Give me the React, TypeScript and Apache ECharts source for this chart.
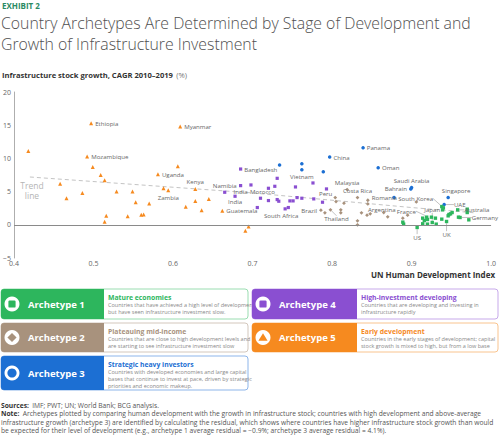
import React, { useEffect, useRef } from "react";
import * as echarts from "echarts";

// [label, HDI, infrastructure stock growth %]
type Pt = [string, number, number];

const matureEconomies: Pt[] = [
  ["", 0.889, 0.4], ["", 0.89, 0.1], ["US", 0.907, -0.4], ["", 0.914, 1.0],
  ["France", 0.919, 1.15], ["", 0.916, 0.65], ["", 0.92, 0.8], ["", 0.925, 1.15],
  ["", 0.93, 1.0], ["Japan", 0.926, 0.35], ["", 0.931, 0.1], ["", 0.92, 0.1],
  ["", 0.914, 0.15], ["", 0.938, 0.85], ["", 0.939, 2.25], ["South Korea", 0.938, 2.75],
  ["", 0.94, 2.55], ["", 0.947, 1.55], ["", 0.946, 1.35], ["", 0.949, 1.65],
  ["", 0.951, 1.85], ["Australia", 0.958, 2.25], ["", 0.97, 2.35], ["", 0.97, 1.85],
  ["", 0.959, 1.15], ["Germany", 0.961, 1.1], ["", 0.972, 0.75], ["UK", 0.944, 0.5],
];

const plateauingMidIncome: Pt[] = [
  ["Malaysia", 0.819, 5.3], ["Costa Rica", 0.832, 4.1], ["Peru", 0.804, 4.1],
  ["", 0.805, 3.5], ["", 0.815, 3.25], ["Romania", 0.845, 3.7], ["", 0.845, 3.15],
  ["Brazil", 0.786, 2.2], ["", 0.791, 1.8], ["Thailand", 0.798, 2.25], ["", 0.811, 2.25],
  ["", 0.811, 1.8], ["", 0.832, 0.6], ["", 0.832, 0.0], ["", 0.837, 1.8],
  ["", 0.844, 1.45], ["", 0.848, 1.65], ["Argentina", 0.865, 1.85], ["", 0.87, 1.2],
  ["", 0.906, 3.45], ["", 0.895, 1.45], ["", 0.889, 1.0],
];

const strategicHeavyInvestors: Pt[] = [
  ["", 0.734, 9.0], ["", 0.762, 9.2], ["Vietnam", 0.762, 8.3], ["", 0.789, 8.0],
  ["China", 0.797, 10.2], ["Panama", 0.839, 11.6], ["Oman", 0.858, 8.6],
  ["", 0.878, 4.1], ["Bahrain", 0.899, 5.4], ["Saudi Arabia", 0.9, 5.6],
  ["Singapore", 0.946, 4.1], ["UAE", 0.941, 3.05],
];

const highInvestmentDeveloping: Pt[] = [
  ["Bangladesh", 0.685, 8.4], ["India", 0.685, 5.9], ["Namibia", 0.665, 4.9],
  ["India", 0.678, 4.3], ["", 0.698, 6.0], ["", 0.731, 7.0], ["", 0.728, 5.8],
  ["", 0.72, 5.5], ["Morocco", 0.71, 4.0], ["", 0.72, 3.65], ["", 0.731, 3.8],
  ["", 0.733, 3.55], ["", 0.747, 3.6], ["", 0.751, 3.6], ["", 0.756, 4.1],
  ["", 0.754, 5.7], ["", 0.762, 4.0], ["", 0.777, 3.9], ["", 0.776, 6.3],
  ["", 0.788, 3.4], ["", 0.793, 5.4], ["", 0.706, 2.6], ["South Africa", 0.741, 2.4],
  ["", 0.745, 2.6],
];

const earlyDevelopment: Pt[] = [
  ["", 0.418, 11.1], ["Ethiopia", 0.497, 15.3], ["Myanmar", 0.609, 14.8],
  ["Mozambique", 0.492, 10.3], ["", 0.499, 8.7], ["", 0.509, 7.5], ["", 0.514, 6.7],
  ["", 0.458, 6.2], ["", 0.466, 4.0], ["", 0.486, 4.8], ["", 0.529, 5.0],
  ["", 0.549, 5.0], ["", 0.553, 3.4], ["", 0.57, 3.2], ["", 0.516, 1.35],
  ["", 0.514, 0.45], ["", 0.543, 1.3], ["", 0.56, 1.5], ["", 0.563, 1.55],
  ["", 0.606, 8.8], ["Uganda", 0.581, 7.6], ["", 0.588, 5.5], ["Zambia", 0.594, 5.2],
  ["Kenya", 0.628, 5.4], ["", 0.628, 3.6], ["", 0.645, 3.9], ["", 0.616, 2.7],
  ["", 0.636, 2.2], ["Guatemala", 0.662, 2.1], ["", 0.691, -0.9], ["", 0.695, -0.25],
];

const trendLine: [number, number][] = [
  [0.42, 7.2], [0.7, 4.8], [0.9, 2.6], [0.98, 1.8],
];

const xRange = [0.4, 1.0];
const yRange = [-5, 20];

const archetypeNames = ["Archetype 1", "Archetype 2", "Archetype 3", "Archetype 4", "Archetype 5"];
const archetypeTitles = [
  "Mature economies",
  "Plateauing mid-income",
  "Strategic heavy investors",
  "High-investment developing",
  "Early development",
];
const archetypeDescriptions = [
  ["Countries that have achieved a high level of development", "but have seen infrastructure investment slow."],
  ["Countries that are close to high development levels and", "are starting to see infrastructure investment slow"],
  ["Countries with developed economies and large capital", "bases that continue to invest at pace, driven by strategic", "priorities and economic makeup."],
  ["Countries that are developing and investing in", "infrastructure rapidly"],
  ["Countries in the early stages of development; capital", "stock growth is mixed to high, but from a low base"],
];

const titleLines = [
  "Country Archetypes Are Determined by Stage of Development and",
  "Growth of Infrastructure Investment",
];
const noteLines = [
  "Archetypes plotted by comparing human development with the growth in infrastructure stock; countries with high development and above-average",
  "infrastructure growth (archetype 3) are identified by calculating the residual, which shows where countries have higher infrastructure stock growth than would",
  "be expected for their level of development (e.g., archetype 1 average residual = \u22120.9%; archetype 3 average residual = 4.1%).",
];

const FONT = "'Open Sans', 'Noto Sans', sans-serif";
const COLORS = ["#2DB65D", "#A8927D", "#1C6FD3", "#8A4FD1", "#F68A1F"];
const BORDERS = ["#9ADDB1", "#D3C7BC", "#8DB5EA", "#C7A9EA", "#F9C48F"];

type Place = { position: string; distance?: number; dx?: number; dy?: number; line?: boolean };
const labelPlacement: Record<string, Place> = {
  Ethiopia: { position: "right" },
  Myanmar: { position: "right" },
  Mozambique: { position: "right" },
  Uganda: { position: "right" },
  Zambia: { position: "bottom" },
  Kenya: { position: "top" },
  Guatemala: { position: "right" },
  Bangladesh: { position: "right" },
  India: { position: "bottom", distance: 1 },
  Namibia: { position: "top" },
  Morocco: { position: "top", dx: 2 },
  "South Africa": { position: "bottom", dx: -4 },
  Vietnam: { position: "bottom" },
  China: { position: "right" },
  Panama: { position: "right" },
  Oman: { position: "right" },
  "Saudi Arabia": { position: "top" },
  Bahrain: { position: "left" },
  Singapore: { position: "top", dx: 8 },
  UAE: { position: "right", dx: 6, line: true },
  Malaysia: { position: "top" },
  "Costa Rica": { position: "top" },
  Peru: { position: "left", distance: 1, dy: -4 },
  Romania: { position: "right", dy: -3 },
  Brazil: { position: "left" },
  Thailand: { position: "bottom", dx: 6, dy: 2, line: true },
  Argentina: { position: "top", distance: 0, dx: -2, dy: 1.5 },
  France: { position: "left", dx: -7, dy: -6, line: true },
  US: { position: "bottom", dy: 3, line: true },
  Japan: { position: "top", dy: -6, line: true },
  "South Korea": { position: "left", dx: -5, dy: -8, line: true },
  UK: { position: "bottom", dy: 6, line: true },
  Australia: { position: "right", dx: 3, line: true },
  Germany: { position: "right", dx: 8, line: true },
};

function scatterSeries(name: string, pts: Pt[], color: string, symbol: string, size: number) {
  return {
    type: "scatter",
    name,
    symbol,
    symbolSize: size,
    z: 3,
    itemStyle: { color, opacity: 1 },
    label: { show: false, formatter: "{b}", fontSize: 6.1, color: "#666", fontFamily: FONT },
    labelLine: { show: false, lineStyle: { color: "#999", width: 0.6 } },
    data: pts.map(([label, x, y]) => {
      const p = label ? labelPlacement[label] : undefined;
      const item: any = { name: label, value: [x, y] };
      if (label) {
        item.label = {
          show: true,
          position: p ? p.position : "right",
          distance: p && p.distance !== undefined ? p.distance : 2,
        };
        if (p && p.line) item.labelLine = { show: true, lineStyle: { color: "#999", width: 0.6 } };
      }
      return item;
    }),
    labelLayout: (params: any) => {
      const it = pts[params.dataIndex];
      const p = it && it[0] ? labelPlacement[it[0]] : undefined;
      if (p && (p.dx || p.dy)) return { dx: p.dx || 0, dy: p.dy || 0 };
      return {};
    },
  };
}

function legendBox(i: number, x: number, y: number, w: number, h: number, colW: number): any[] {
  const color = COLORS[i];
  const cx = x + 11;
  const cy = y + h / 2;
  const els: any[] = [
    { type: "rect", shape: { x, y, width: w, height: h, r: 3 }, style: { fill: "#fff", stroke: BORDERS[i], lineWidth: 1 } },
    { type: "rect", shape: { x, y, width: colW, height: h, r: [3, 0, 0, 3] }, style: { fill: color } },
    { type: "circle", shape: { cx, cy, r: 7.5 }, style: { fill: "#fff" } },
  ];
  if (i === 0 || i === 3) {
    els.push({ type: "rect", shape: { x: cx - 3.6, y: cy - 3.6, width: 7.2, height: 7.2, r: 1.2 }, style: { fill: color } });
  } else if (i === 1) {
    els.push({ type: "polygon", shape: { points: [[cx, cy - 4.6], [cx + 4.6, cy], [cx, cy + 4.6], [cx - 4.6, cy]] }, style: { fill: color } });
  } else if (i === 2) {
    els.push({ type: "circle", shape: { cx, cy, r: 4.6 }, style: { fill: color } });
  } else {
    els.push({ type: "polygon", shape: { points: [[cx, cy - 4.3], [cx + 4.6, cy + 3.2], [cx - 4.6, cy + 3.2]] }, style: { fill: color } });
  }
  els.push({
    type: "text", x: x + 27, y: cy,
    style: { text: archetypeNames[i], fill: "#fff", font: `bold 9.5px ${FONT}`, verticalAlign: "middle" },
  });
  const tx = x + colW + 4;
  els.push({
    type: "text", x: tx, y: y + 8,
    style: { text: archetypeTitles[i], fill: color, font: `bold 6.8px ${FONT}`, verticalAlign: "middle" },
  });
  archetypeDescriptions[i].forEach((line, k) => {
    els.push({
      type: "text", x: tx, y: y + 16 + k * 7,
      style: { text: line, fill: "#888", font: `5.5px ${FONT}`, verticalAlign: "middle" },
    });
  });
  return els;
}

export default function App() {
  const ref = useRef<HTMLDivElement>(null);
  useEffect(() => {
    if (!ref.current) return;
    const chart = echarts.init(ref.current, undefined, { renderer: "svg" });
    const graphics: any[] = [
      { type: "text", x: 2, y: 5, style: { text: "EXHIBIT 2", fill: "#2A8A63", font: `bold 8px ${FONT}`, verticalAlign: "middle" } },
      ...titleLines.map((t, k) => ({
        type: "text", x: 1, y: 23 + k * 20.5,
        style: { text: t, fill: "#505050", font: `300 15.8px ${FONT}`, verticalAlign: "middle" },
      })),
      {
        type: "text", x: 2, y: 75,
        style: {
          text: "{b|Infrastructure stock growth, CAGR 2010\u20132019} {n|(%)}",
          verticalAlign: "middle",
          rich: {
            b: { font: `bold 7.6px ${FONT}`, fill: "#333" },
            n: { font: `7.6px ${FONT}`, fill: "#777" },
          },
        },
      },
      { type: "text", x: 32, y: 185.5, style: { text: "Trend", fill: "#b5b5b5", font: `8.5px ${FONT}`, align: "center", verticalAlign: "middle" } },
      { type: "text", x: 32, y: 195.5, style: { text: "line", fill: "#b5b5b5", font: `8.5px ${FONT}`, align: "center", verticalAlign: "middle" } },
      { type: "text", x: 495, y: 274, style: { text: "UN Human Development Index", fill: "#333", font: `bold 8px ${FONT}`, align: "right", verticalAlign: "middle" } },
      ...legendBox(0, 1, 289, 247, 30, 103),
      ...legendBox(1, 1, 323, 247, 29, 103),
      ...legendBox(2, 1, 356, 247, 34, 103),
      ...legendBox(3, 252, 289, 246, 30, 105),
      ...legendBox(4, 252, 323, 246, 29, 105),
      {
        type: "text", x: 1, y: 405,
        style: {
          text: "{b|Sources:} {n|IMF; PWT; UN; World Bank; BCG analysis.}",
          verticalAlign: "middle",
          rich: { b: { font: `bold 6.7px ${FONT}`, fill: "#333" }, n: { font: `6.7px ${FONT}`, fill: "#555" } },
        },
      },
      ...noteLines.map((t, k) => ({
        type: "text", x: 1, y: 413.8 + k * 8.5,
        style: k === 0
          ? {
              text: `{b|Note:} {n|${t}}`,
              verticalAlign: "middle",
              rich: { b: { font: `bold 6.7px ${FONT}`, fill: "#333" }, n: { font: `6.7px ${FONT}`, fill: "#555" } },
            }
          : { text: t, font: `6.7px ${FONT}`, fill: "#555", verticalAlign: "middle" },
      })),
    ];

    chart.setOption({
      animation: false,
      grid: { left: 12, right: 4, top: 92, bottom: 179, containLabel: false },
      xAxis: {
        type: "value", min: xRange[0], max: xRange[1], interval: 0.1,
        axisLine: { show: false }, axisTick: { show: false }, splitLine: { show: false },
        axisLabel: { fontSize: 7, color: "#666", fontFamily: FONT, margin: 2, formatter: (v: number) => v.toFixed(1) },
      },
      yAxis: {
        type: "value", min: yRange[0], max: yRange[1], interval: 5,
        axisLine: { show: true, lineStyle: { color: "#999", width: 0.8 } },
        axisTick: { show: false }, splitLine: { show: false },
        axisLabel: { fontSize: 7, color: "#666", fontFamily: FONT, margin: 3, formatter: (v: number) => String(v).replace("-", "\u2212") },
      },
      series: [
        {
          type: "line", data: trendLine, symbol: "none", z: 1, silent: true,
          lineStyle: { color: "#c4c4c4", width: 1, type: [4, 3] },
          markLine: {
            silent: true, symbol: "none", label: { show: false },
            lineStyle: { color: "#8a8a8a", width: 1, type: "solid" },
            data: [{ yAxis: 0 }],
          },
        },
        scatterSeries("Early development", earlyDevelopment, COLORS[4], "triangle", 4),
        scatterSeries("High-investment developing", highInvestmentDeveloping, COLORS[3], "rect", 3.2),
        scatterSeries("Strategic heavy investors", strategicHeavyInvestors, COLORS[2], "circle", 3.5),
        scatterSeries("Plateauing mid-income", plateauingMidIncome, COLORS[1], "diamond", 3.8),
        scatterSeries("Mature economies", matureEconomies, COLORS[0], "rect", 3.4),
      ],
      graphic: { elements: graphics },
    } as any);
    return () => chart.dispose();
  }, []);
  return <div ref={ref} style={{ position: "fixed", left: 0, top: 0, width: 499, height: 437, background: "#fff" }} />;
}
